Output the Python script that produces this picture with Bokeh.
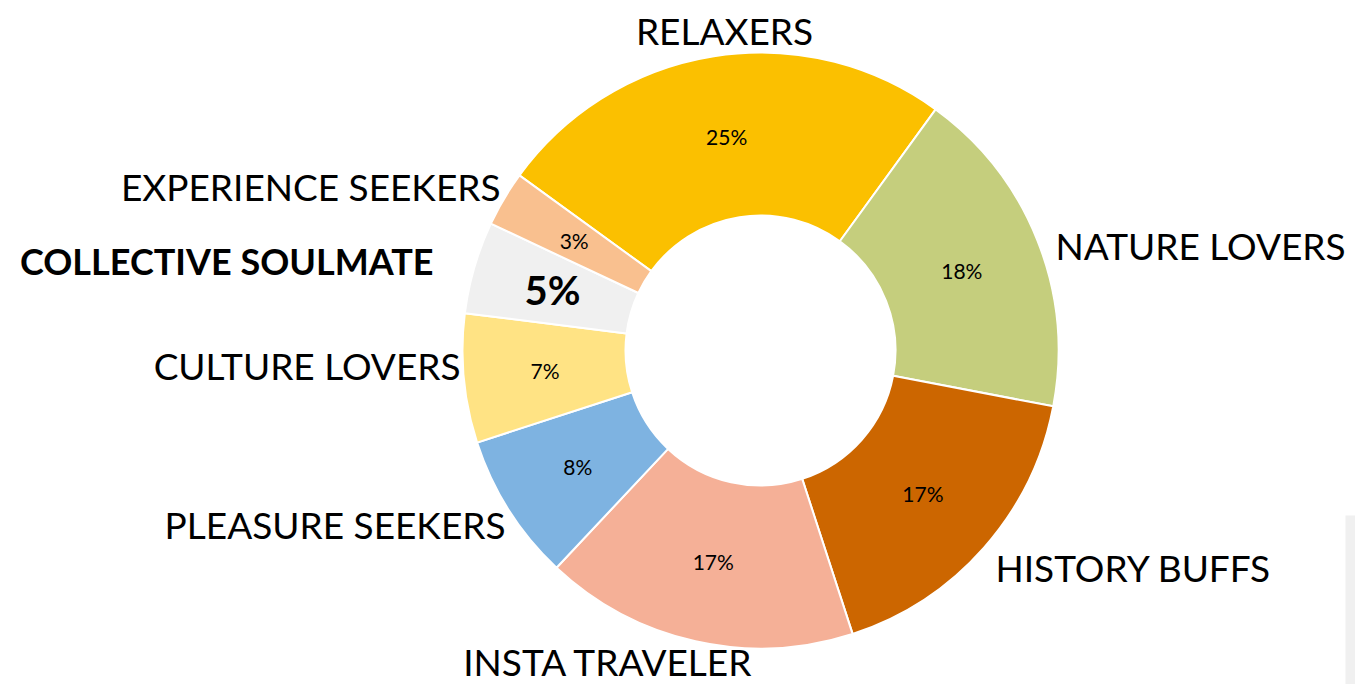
import math
from bokeh.plotting import figure
from bokeh.models import ColumnDataSource
from bokeh.core.properties import value
from bokeh.embed import file_html
from bokeh.resources import INLINE

# ---- data ----
categories = ["RELAXERS", "NATURE LOVERS", "HISTORY BUFFS", "INSTA TRAVELER",
              "PLEASURE SEEKERS", "CULTURE LOVERS", "COLLECTIVE SOULMATE",
              "EXPERIENCE SEEKERS"]
shares = [25, 18, 17, 17, 8, 7, 5, 3]
colors = ["#FBC000", "#C5CE7D", "#CC6600", "#F5B097",
          "#7EB3E1", "#FFE384", "#F0F0F0", "#F9C08F"]

# ---- layout ----
W, H = 1355, 684
def sx(x):  # screen px -> data x
    return x
def sy(y):  # screen px -> data y
    return H - y

cx, cy = sx(760), sy(350)
r_out, r_in = 298, 135
start_clock = -54.0  # degrees clockwise from 12 o'clock

total = float(sum(shares))
starts, ends, mids = [], [], []
a = start_clock
for s in shares:
    span = 360.0 * s / total
    starts.append(math.radians(90 - a))
    ends.append(math.radians(90 - (a + span)))
    mids.append(a + span / 2)
    a += span

r_lab = (r_in + r_out) / 2
lx = [cx + r_lab * math.sin(math.radians(m)) for m in mids]
ly = [cy + r_lab * math.cos(math.radians(m)) for m in mids]
pct = [f"{s}%" for s in shares]

src = ColumnDataSource(dict(start=starts, end=ends, color=colors,
                            lx=lx, ly=ly, pct=pct, cat=categories))

p = figure(width=W, height=H, x_range=(0, W), y_range=(0, H),
           output_backend="svg", toolbar_location=None, min_border=0,
           outline_line_color=None, background_fill_color="white",
           border_fill_color="white")
p.axis.visible = False
p.grid.visible = False

# faint panel edge at right bottom
p.quad(left=sx(1345), right=sx(1356), top=sy(515), bottom=sy(685),
       fill_color="#F0F0F0", line_color=None)

p.annular_wedge(x=cx, y=cy, inner_radius=r_in, outer_radius=r_out,
                start_angle="start", end_angle="end", direction="clock",
                fill_color="color", line_color="white", line_width=2,
                source=src)

FONT = "Lato"
idx_hi = categories.index("COLLECTIVE SOULMATE")
norm = [i for i in range(len(shares)) if i != idx_hi]
p.text(x=[lx[i] for i in norm], y=[ly[i] for i in norm],
       text=[pct[i] for i in norm], text_font=value(FONT),
       text_font_size="21px", text_align="center", text_baseline="middle",
       text_color="black")
p.text(x=[lx[idx_hi]], y=[ly[idx_hi]], text=[pct[idx_hi]],
       text_font=value(FONT), text_font_size="40px", text_font_style="bold",
       text_align="center", text_baseline="middle", text_color="black")

# outer category labels: (screen x, screen y, align)
label_pos = {
    "RELAXERS": (724, 30, "center"),
    "NATURE LOVERS": (1055, 245, "left"),
    "HISTORY BUFFS": (995, 567, "left"),
    "INSTA TRAVELER": (608, 661, "center"),
    "PLEASURE SEEKERS": (505, 524, "right"),
    "CULTURE LOVERS": (460, 365, "right"),
    "COLLECTIVE SOULMATE": (433, 260, "right"),
    "EXPERIENCE SEEKERS": (500, 186, "right"),
}
for c in categories:
    x, y, al = label_pos[c]
    bold = c == "COLLECTIVE SOULMATE"
    p.text(x=[sx(x)], y=[sy(y)], text=[c], text_font=value(FONT),
           text_font_size="37px" if not bold else "36px",
           text_font_style="bold" if bold else "normal",
           text_align=al, text_baseline="middle", text_color="black")

open("out.html", "w").write(file_html(p, INLINE))
